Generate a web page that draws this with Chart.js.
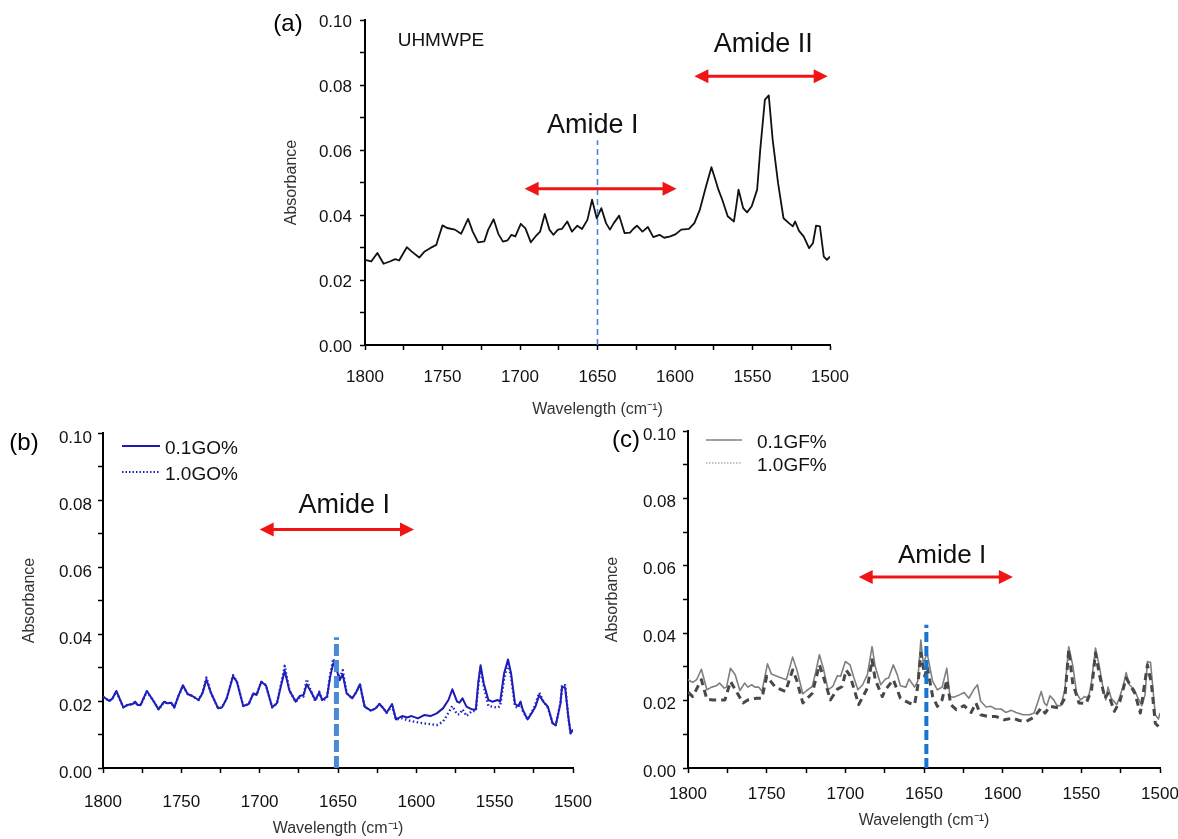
<!DOCTYPE html>
<html>
<head>
<meta charset="utf-8">
<script src="https://cdn.jsdelivr.net/npm/chart.js@4.4.1/dist/chart.umd.min.js"></script>
<style>
  html, body { margin: 0; padding: 0; background: #fff; overflow: hidden; }
  body { width: 1178px; height: 839px; position: relative; }
  canvas { position: absolute; }
  #panelA { left: 262px; top: 0; }
  #panelB { left: 0; top: 420px; }
  #panelC { left: 590px; top: 420px; }
</style>
</head>
<body>
<canvas id="panelA" width="600" height="425"></canvas>
<canvas id="panelB" width="598" height="419"></canvas>
<canvas id="panelC" width="590" height="419"></canvas>
<script>
// (a) UHMWPE
const aWave = [1800,1796,1792,1788,1784,1780.5,1778,1773,1770,1765,1761.5,1758,1754,1753,1750,1747,1742,1738,1733.5,1730.5,1727,1723,1720.5,1717,1714,1711,1708,1705.5,1703,1699.5,1696.5,1693,1690,1687,1684,1681,1678.5,1675.5,1673,1669.5,1666.5,1663,1660,1656.5,1653.5,1650.5,1647.5,1644.5,1642,1639.5,1636,1632.5,1629,1627,1624.5,1621,1617.5,1614,1610,1607,1603,1599.5,1596,1591,1587.5,1584,1580,1576.5,1574,1572,1569.5,1566,1562,1560.5,1559,1556,1553.5,1550.5,1547,1545,1542,1539.5,1537,1533.5,1530,1526.5,1524,1522.5,1520,1517,1513.5,1511,1509,1506.5,1504,1502,1500];
const aAbs = [0.0262,0.0257,0.0283,0.0250,0.0257,0.0264,0.0260,0.0301,0.0288,0.0269,0.0288,0.0298,0.0308,0.0324,0.0368,0.0360,0.0355,0.0342,0.0388,0.0349,0.0316,0.0319,0.0355,0.0387,0.0342,0.0318,0.0322,0.0339,0.0334,0.0373,0.0359,0.0316,0.0334,0.0349,0.0403,0.0355,0.0339,0.0355,0.0357,0.0380,0.0349,0.0367,0.0357,0.0385,0.0447,0.0390,0.0421,0.0375,0.0355,0.0375,0.0398,0.0344,0.0346,0.0357,0.0367,0.0349,0.0363,0.0332,0.0339,0.0330,0.0334,0.0341,0.0355,0.0357,0.0375,0.0416,0.0488,0.0547,0.0509,0.0478,0.0447,0.0396,0.0380,0.0427,0.0478,0.0421,0.0408,0.0427,0.0478,0.0601,0.0755,0.0768,0.0632,0.0498,0.0390,0.0375,0.0365,0.0380,0.0351,0.0334,0.0298,0.0313,0.0367,0.0365,0.0272,0.0262,0.0272];

// (b) GO
const bWave = [1800,1796,1794,1791.5,1787,1784.5,1781,1779.5,1778,1776,1772,1768.5,1764.5,1761,1759,1756.5,1754.5,1752,1749,1746,1743,1739,1736.5,1734,1731,1726.5,1724,1721,1717,1714.5,1710.5,1707,1704,1702,1699,1696,1692,1689,1686,1684,1681,1677,1674.5,1672,1670,1667.5,1664.5,1662,1660,1657,1655,1653,1651,1649,1647,1644.5,1641,1638.5,1636,1633,1629,1626,1623.5,1621,1619,1615.5,1613,1609,1606,1603,1599,1595,1591,1587,1583,1579.5,1577,1574,1572.5,1570.5,1568,1564.5,1562,1560.5,1559,1557,1554,1551.5,1548,1546.5,1544,1541.5,1539.5,1537,1535,1533.5,1532,1529,1526.5,1524,1521.5,1519,1516,1513,1511,1508,1507,1505,1503,1501.5,1500];
const bGO01 = [0.0213,0.0200,0.0207,0.0230,0.0181,0.0188,0.0191,0.0198,0.0188,0.0188,0.0230,0.0205,0.0175,0.0198,0.0193,0.0195,0.0181,0.0213,0.0247,0.0221,0.0215,0.0203,0.0223,0.0264,0.0223,0.0178,0.0181,0.0208,0.0274,0.0257,0.0185,0.0191,0.0223,0.0218,0.0257,0.0247,0.0181,0.0193,0.0253,0.0290,0.0231,0.0198,0.0215,0.0218,0.0250,0.0230,0.0203,0.0225,0.0203,0.0213,0.0272,0.0313,0.0297,0.0262,0.0280,0.0223,0.0208,0.0225,0.0250,0.0183,0.0171,0.0178,0.0191,0.0178,0.0165,0.0191,0.0145,0.0155,0.0151,0.0155,0.0148,0.0158,0.0155,0.0163,0.0178,0.0203,0.0235,0.0198,0.0195,0.0208,0.0183,0.0175,0.0175,0.0253,0.0307,0.0253,0.0203,0.0198,0.0203,0.0198,0.0282,0.0324,0.0282,0.0191,0.0185,0.0198,0.0173,0.0145,0.0163,0.0183,0.0218,0.0198,0.0183,0.0133,0.0128,0.0193,0.0242,0.0240,0.0153,0.0103,0.0115];
const bGO10 = [0.0213,0.0200,0.0207,0.0228,0.0181,0.0188,0.0191,0.0198,0.0188,0.0188,0.0228,0.0205,0.0175,0.0198,0.0193,0.0195,0.0181,0.0213,0.0245,0.0221,0.0215,0.0203,0.0225,0.0270,0.0223,0.0178,0.0181,0.0208,0.0277,0.0257,0.0185,0.0191,0.0223,0.0218,0.0257,0.0247,0.0181,0.0193,0.0258,0.0305,0.0231,0.0198,0.0210,0.0213,0.0265,0.0232,0.0200,0.0228,0.0200,0.0210,0.0280,0.0326,0.0300,0.0268,0.0292,0.0223,0.0208,0.0225,0.0250,0.0183,0.0171,0.0178,0.0191,0.0178,0.0165,0.0185,0.0145,0.0148,0.0143,0.0140,0.0136,0.0133,0.0131,0.0128,0.0138,0.0165,0.0185,0.0160,0.0160,0.0175,0.0155,0.0170,0.0170,0.0245,0.0300,0.0245,0.0185,0.0183,0.0180,0.0185,0.0265,0.0315,0.0270,0.0183,0.0180,0.0195,0.0170,0.0145,0.0165,0.0190,0.0225,0.0200,0.0180,0.0133,0.0128,0.0195,0.0248,0.0247,0.0153,0.0103,0.0115];

// (c) GF
const cWave = [1800,1797,1794.5,1791.5,1788,1785,1782,1780,1777,1775.5,1773,1770,1767,1764,1762,1759.5,1757.5,1755,1753,1749.5,1747,1743.5,1740.5,1737.5,1733.5,1730.5,1727,1724.5,1721,1719,1716.5,1714,1711,1708,1705,1703,1700,1697,1694.5,1692,1689,1686,1683,1681,1677.5,1674.5,1672.5,1669.5,1667,1665,1661.5,1659.5,1656,1654,1652,1650.5,1648,1644.5,1641.5,1638.5,1635.5,1633.5,1631,1627.5,1624.5,1621.5,1618.5,1616,1614,1610.5,1607.5,1604.5,1601,1598,1594.5,1591.5,1587,1583,1580,1577.5,1575.5,1573.5,1572,1570,1567.5,1565.5,1563,1560.5,1558,1555.5,1553,1550.5,1548,1545.5,1543.5,1541,1538.5,1536,1534.5,1533,1531,1527.5,1525.5,1523.5,1521.5,1519.5,1516.5,1514,1511.5,1509.5,1508,1506,1503,1501,1500];
const cGF01 = [0.0262,0.0254,0.0262,0.0293,0.0232,0.0240,0.0244,0.0252,0.0237,0.0240,0.0296,0.0277,0.0230,0.0252,0.0240,0.0247,0.0240,0.0240,0.0227,0.0309,0.0279,0.0272,0.0267,0.0262,0.0329,0.0286,0.0220,0.0230,0.0242,0.0281,0.0336,0.0296,0.0232,0.0242,0.0274,0.0272,0.0316,0.0306,0.0267,0.0232,0.0247,0.0277,0.0360,0.0301,0.0247,0.0264,0.0267,0.0306,0.0277,0.0244,0.0240,0.0264,0.0240,0.0257,0.0380,0.0310,0.0340,0.0257,0.0232,0.0240,0.0296,0.0212,0.0210,0.0217,0.0224,0.0207,0.0232,0.0247,0.0198,0.0181,0.0183,0.0175,0.0175,0.0165,0.0171,0.0165,0.0158,0.0158,0.0163,0.0198,0.0227,0.0193,0.0185,0.0214,0.0202,0.0185,0.0185,0.0232,0.0360,0.0306,0.0222,0.0202,0.0212,0.0207,0.0257,0.0356,0.0301,0.0232,0.0202,0.0240,0.0207,0.0188,0.0212,0.0242,0.0283,0.0247,0.0234,0.0207,0.0185,0.0217,0.0316,0.0313,0.0158,0.0145,0.0163];
const cWave2 = [1800,1797,1791.5,1788,1784,1776.5,1773,1765,1762,1756.5,1753,1750,1744.5,1738,1733.5,1731,1727,1721,1716.5,1714,1709.5,1705,1702,1699.5,1697,1691.5,1686,1683,1681,1676.5,1674.5,1669.5,1665,1659.5,1656,1654,1652,1649.5,1648,1644.5,1641.5,1638.5,1635.5,1633,1629.5,1624.5,1620,1617,1614,1609.5,1604.5,1599,1593.5,1589.5,1585,1580,1575.5,1573,1570,1564,1560.5,1558,1555.5,1551.5,1547,1543.5,1541,1538.5,1535,1533,1529,1525.5,1521.5,1516,1512.5,1508,1505.5,1503,1501];
const cGF10 = [0.0225,0.0212,0.0262,0.0204,0.0202,0.0202,0.0257,0.0193,0.0202,0.0207,0.0207,0.0272,0.0240,0.0227,0.0291,0.0262,0.0193,0.0222,0.0306,0.0272,0.0202,0.0234,0.0242,0.0291,0.0274,0.0188,0.0237,0.0321,0.0262,0.0212,0.0232,0.0262,0.0207,0.0193,0.0188,0.0242,0.0341,0.0272,0.0301,0.0212,0.0183,0.0202,0.0262,0.0188,0.0173,0.0185,0.0165,0.0193,0.0158,0.0153,0.0153,0.0143,0.0148,0.0141,0.0138,0.0151,0.0178,0.0163,0.0183,0.0178,0.0207,0.0351,0.0252,0.0193,0.0191,0.0232,0.0341,0.0277,0.0207,0.0222,0.0168,0.0198,0.0267,0.0222,0.0163,0.0306,0.0252,0.0133,0.0123];

const xTicks = [1800, 1750, 1700, 1650, 1600, 1550, 1500];
const yTicks = [0.00, 0.02, 0.04, 0.06, 0.08, 0.10];

const FONT = "'Liberation Sans', Arial, sans-serif";
Chart.defaults.font.family = FONT;

const pts = (xs, ys) => xs.map((x, i) => ({ x, y: ys[i] }));
const marker = (x, top) => [{ x, y: 0 }, { x, y: top }];

const notes = {
  id: "notes",
  afterDraw(chart, args, o) {
    const { ctx, chartArea: a, scales: { x, y } } = chart;
    ctx.save();
    for (const ar of o.arrows || []) {
      const x1 = x.getPixelForValue(ar.from);
      const x2 = x.getPixelForValue(ar.to);
      const yy = y.getPixelForValue(ar.y);
      ctx.strokeStyle = ctx.fillStyle = "#f01414";
      ctx.lineWidth = 3;
      ctx.beginPath();
      ctx.moveTo(x1 + 8, yy);
      ctx.lineTo(x2 - 8, yy);
      ctx.stroke();
      for (const [px, dir] of [[x1, 1], [x2, -1]]) {
        ctx.beginPath();
        ctx.moveTo(px, yy);
        ctx.lineTo(px + dir * 14, yy - 7);
        ctx.lineTo(px + dir * 14, yy + 7);
        ctx.closePath();
        ctx.fill();
      }
    }
    ctx.textBaseline = "middle";
    for (const t of o.texts || []) {
      ctx.font = `${t.size}px ${FONT}`;
      ctx.fillStyle = t.color || "#111";
      ctx.textAlign = t.align || "center";
      const px = t.dx != null ? a.left + t.dx : x.getPixelForValue(t.x);
      const py = t.dy != null ? a.top + t.dy : y.getPixelForValue(t.y);
      ctx.fillText(t.text, px, py);
    }
    for (const l of o.legend || []) {
      ctx.strokeStyle = l.color;
      ctx.lineWidth = l.width;
      ctx.setLineDash(l.dash || []);
      ctx.beginPath();
      ctx.moveTo(a.left + l.dx, a.top + l.dy);
      ctx.lineTo(a.left + l.dx + l.len, a.top + l.dy);
      ctx.stroke();
      ctx.setLineDash([]);
      ctx.font = `19px ${FONT}`;
      ctx.fillStyle = "#111";
      ctx.textAlign = "left";
      ctx.fillText(l.label, a.left + l.tx, a.top + l.dy + 3);
    }
    ctx.restore();
  },
};

function panel(id, p) {
  return new Chart(document.getElementById(id), {
    type: "line",
    data: { datasets: p.datasets },
    options: {
      responsive: false,
      animation: false,
      events: [],
      layout: { padding: p.padding },
      elements: { point: { radius: 0 }, line: { tension: 0, borderJoinStyle: "round" } },
      plugins: { legend: { display: false }, tooltip: { enabled: false }, notes: p.notes },
      scales: {
        x: {
          type: "linear",
          reverse: true,
          min: 1500,
          max: 1800,
          border: { color: "#000", width: 2 },
          grid: { drawOnChartArea: false, tickLength: 5, tickColor: "#000", tickWidth: 1.5 },
          ticks: {
            stepSize: 25,
            maxTicksLimit: 20,
            autoSkip: false,
            maxRotation: 0,
            padding: p.xPad,
            color: "#111",
            font: { size: p.tickSize },
            callback: (v) => (xTicks.includes(v) ? String(v) : ""),
          },
          title: {
            display: true,
            text: "Wavelength (cm⁻¹)",
            color: "#333",
            font: { size: 16 },
            padding: { top: 0, bottom: p.xTitlePad },
          },
          afterFit: (s) => {
            s.height = p.xHeight;
            s.paddingLeft = 0;
            s.paddingRight = 0;
          },
        },
        y: {
          min: 0,
          max: 0.1,
          border: { color: "#000", width: 2 },
          grid: { drawOnChartArea: false, tickLength: 5, tickColor: "#000", tickWidth: 1.5 },
          ticks: {
            stepSize: 0.01,
            autoSkip: false,
            padding: p.yPad,
            labelOffset: p.yOffset,
            color: "#111",
            font: { size: p.tickSize },
            callback: (v) => {
              const r = Math.round(v * 100) / 100;
              return yTicks.some((t) => Math.abs(t - r) < 1e-9) ? r.toFixed(2) : "";
            },
          },
          title: {
            display: true,
            text: "Absorbance",
            color: "#333",
            font: { size: 16 },
            padding: { top: p.yTitlePad, bottom: 0 },
          },
          afterFit: (s) => {
            s.width = p.yWidth;
            s.paddingTop = 0;
            s.paddingBottom = 0;
          },
        },
      },
    },
    plugins: [notes],
  });
}

panel("panelA", {
  padding: { top: 20, right: 32, bottom: 6, left: 0 },
  xHeight: 74, yWidth: 103, xPad: 17, yPad: 8, yOffset: 2, tickSize: 17,
  xTitlePad: 0, yTitlePad: 20,
  datasets: [
    { data: marker(1650, 0.063), borderColor: "#4a86d6", borderWidth: 1.6, borderDash: [6, 4] },
    { data: pts(aWave, aAbs), borderColor: "#111", borderWidth: 1.8 },
  ],
  notes: {
    arrows: [
      { from: 1697, to: 1599, y: 0.0481 },
      { from: 1587.5, to: 1501.5, y: 0.0827 },
    ],
    texts: [
      { text: "(a)", dx: -77, dy: 4, size: 24, color: "#000" },
      { text: "UHMWPE", x: 1751, y: 0.0935, size: 19 },
      { text: "Amide I", x: 1653, y: 0.0675, size: 27 },
      { text: "Amide II", x: 1543, y: 0.0925, size: 27 },
    ],
  },
});

panel("panelB", {
  padding: { top: 13, right: 25, bottom: 0, left: 0 },
  xHeight: 71, yWidth: 103, xPad: 19, yPad: 6, yOffset: 5, tickSize: 17,
  xTitlePad: 1, yTitlePad: 20,
  datasets: [
    { data: marker(1651, 0.039), borderColor: "#4a8ad8", borderWidth: 5, borderDash: [12, 4] },
    { data: pts(bWave, bGO10), borderColor: "#2323cc", borderWidth: 2.4, borderDash: [1.5, 2.5] },
    { data: pts(bWave, bGO01), borderColor: "#1c1cb0", borderWidth: 2 },
  ],
  notes: {
    arrows: [{ from: 1700, to: 1601.5, y: 0.0712 }],
    texts: [
      { text: "(b)", dx: -79, dy: 10, size: 24, color: "#000" },
      { text: "Amide I", x: 1646, y: 0.0784, size: 27 },
    ],
    legend: [
      { label: "0.1GO%", dx: 19, dy: 13, len: 38, tx: 62, color: "#1c1cb0", width: 2 },
      { label: "1.0GO%", dx: 19, dy: 39, len: 38, tx: 62, color: "#2323cc", width: 2, dash: [1.5, 2] },
    ],
  },
});

panel("panelC", {
  padding: { top: 11, right: 20, bottom: 0, left: 0 },
  xHeight: 71, yWidth: 98, xPad: 11, yPad: 7, yOffset: 4, tickSize: 17,
  xTitlePad: 9, yTitlePad: 13,
  datasets: [
    { data: marker(1648.5, 0.0425), borderColor: "#1873d3", borderWidth: 4, borderDash: [10, 4] },
    { data: pts(cWave2, cGF10), borderColor: "#484848", borderWidth: 3, borderDash: [7, 5] },
    { data: pts(cWave, cGF01), borderColor: "#7f7f7f", borderWidth: 1.6 },
  ],
  notes: {
    arrows: [{ from: 1691.5, to: 1593.5, y: 0.0567 }],
    texts: [
      { text: "(c)", dx: -62, dy: 9, size: 24, color: "#000" },
      { text: "Amide I", x: 1638.5, y: 0.0631, size: 26 },
    ],
    legend: [
      { label: "0.1GF%", dx: 18, dy: 9, len: 36, tx: 69, color: "#7f7f7f", width: 1.6 },
      { label: "1.0GF%", dx: 18, dy: 32, len: 36, tx: 69, color: "#888", width: 1.2, dash: [1.5, 1.5] },
    ],
  },
});
</script>
</body>
</html>
